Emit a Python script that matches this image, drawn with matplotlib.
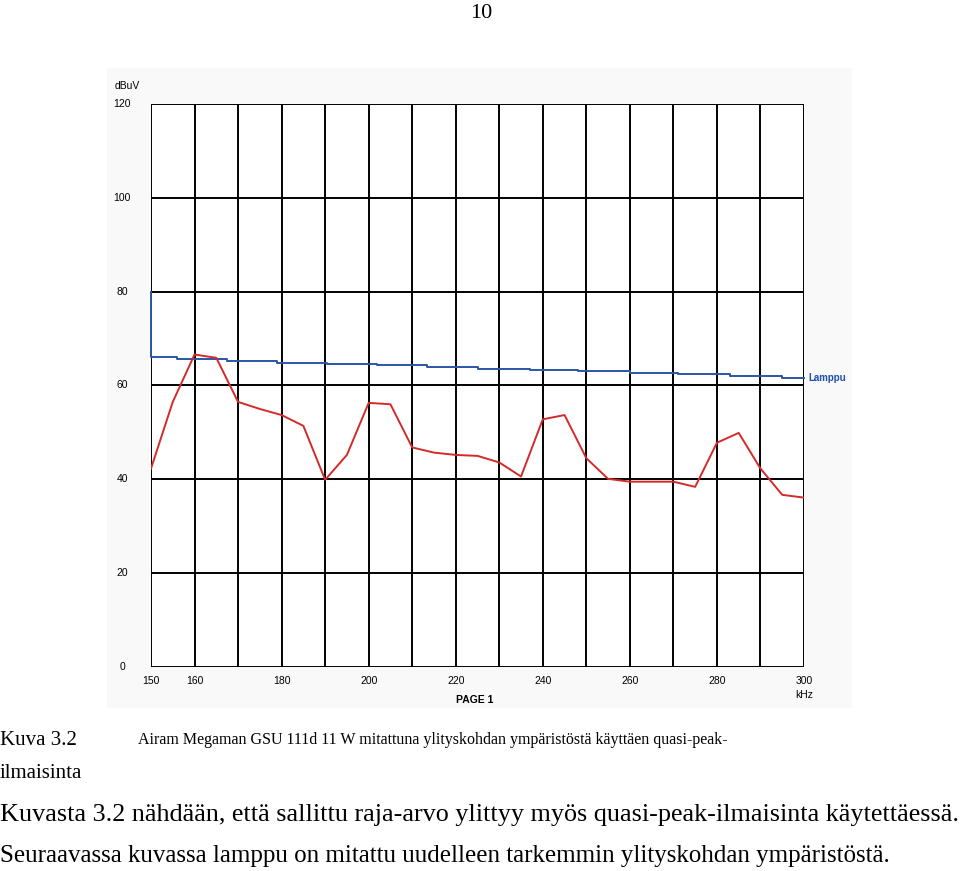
import matplotlib.pyplot as plt
from matplotlib.patches import Rectangle

# measured quasi-peak level (red), every 5 kHz
freq_khz = [150, 155, 160, 165, 170, 175, 180, 185, 190, 195, 200, 205, 210, 215, 220,
            225, 230, 235, 240, 245, 250, 255, 260, 265, 270, 275, 280, 285, 290, 295, 300]
level_dbuv = [42.3, 56.5, 66.6, 65.9, 56.5, 55.0, 53.7, 51.4, 39.9, 45.2, 56.3, 56.0, 46.8, 45.7, 45.2,
              45.0, 43.6, 40.6, 52.8, 53.7, 44.5, 40.1, 39.5, 39.5, 39.5, 38.4, 47.8, 49.9, 42.3, 36.7, 36.1]

# limit line "Lamppu" (blue), drawn as steps
limit_khz = [150, 150, 156, 167.5, 179, 190.5, 202, 213.5, 225, 237, 248, 260, 271, 283, 295, 300]
limit_dbuv = [80, 66.0, 65.6, 65.2, 64.9, 64.6, 64.3, 63.9, 63.6, 63.3, 63.0, 62.7, 62.4, 62.1, 61.7, 61.7]

x_ticks = [150, 160, 180, 200, 220, 240, 260, 280, 300]
y_ticks = [0, 20, 40, 60, 80, 100, 120]

W, H = 960, 871
fig = plt.figure(figsize=(W / 100, H / 100), dpi=100)

# faint grey panel behind the screenshot of the analyser
fig.patches.append(Rectangle((107 / W, 1 - 708 / H), (852 - 107) / W, (708 - 68) / H,
                             transform=fig.transFigure, facecolor='#f9f9f9', edgecolor='none', zorder=-1))

ax = fig.add_axes([151 / W, 1 - 667 / H, (804 - 151) / W, (667 - 104) / H])
ax.set_zorder(2)
ax.set_facecolor('white')
ax.set_xlim(150, 300)
ax.set_ylim(0, 120)

# grid every 10 kHz / 20 dB
for f in range(150, 301, 10):
    ax.axvline(f, color='black', lw=1.4, zorder=1)
for v in y_ticks:
    ax.axhline(v, color='black', lw=1.4, zorder=1)
for s in ax.spines.values():
    s.set_visible(False)
ax.set_xticks([])
ax.set_yticks([])

ax.step(limit_khz, limit_dbuv, where='post', color='#2a56a8', lw=1.4, zorder=3, clip_on=False)
ax.plot(freq_khz, level_dbuv, color='#d42a2a', lw=1.4, zorder=4)

lab = dict(family='Liberation Sans', fontsize=7.5, color='black')
for v in y_ticks:
    ax.text(-0.044, v / 120, str(v), transform=ax.transAxes, ha='center', va='center', **lab)
for f in x_ticks:
    ax.text(f, -2.0, str(f), ha='center', va='top', **lab)
ax.text(-0.056, 1.032, 'dBuV', transform=ax.transAxes, ha='left', va='center', **lab)
ax.text(1.0, -0.04, 'kHz', transform=ax.transAxes, ha='center', va='top', **lab)
ax.text(0.496, -0.049, 'PAGE 1', transform=ax.transAxes, ha='center', va='top',
        family='Liberation Sans', fontsize=7.5, fontweight='bold')
ax.text(1.006, 61.7, 'Lamppu', ha='left', va='center', transform=ax.get_yaxis_transform(),
        family='Liberation Sans', fontsize=7, fontweight='bold', color='#1f4fb0', clip_on=False)

# page text around the figure
serif = dict(family='Liberation Serif', color='black')
fig.text(481 / W, 1 - 13 / H, '10', ha='center', va='center', fontsize=16, **serif)
fig.text(0, 1 - 740 / H, 'Kuva 3.2', ha='left', va='center', fontsize=15, **serif)
fig.text(138 / W, 1 - 740 / H,
         'Airam Megaman GSU 111d 11 W mitattuna ylityskohdan ympäristöstä käyttäen quasi-peak-',
         ha='left', va='center', fontsize=11.5, **serif)
fig.text(0, 1 - 773 / H, 'ilmaisinta', ha='left', va='center', fontsize=15, **serif)
fig.text(0, 1 - 815 / H,
         'Kuvasta 3.2 nähdään, että sallittu raja-arvo ylittyy myös quasi-peak-ilmaisinta käytettäessä.',
         ha='left', va='center', fontsize=18.8, **serif)
fig.text(0, 1 - 856 / H,
         'Seuraavassa kuvassa lamppu on mitattu uudelleen tarkemmin ylityskohdan ympäristöstä.',
         ha='left', va='center', fontsize=18, **serif)

fig.savefig('out.png', dpi=100)
